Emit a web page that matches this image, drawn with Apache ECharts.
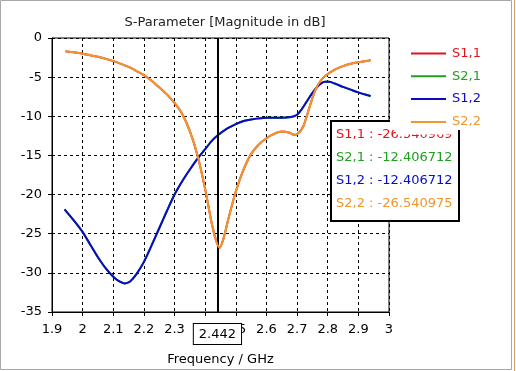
<!DOCTYPE html>
<html><head><meta charset="utf-8">
<script src="https://cdn.jsdelivr.net/npm/echarts@6/dist/echarts.min.js"></script>
<style>html,body{margin:0;padding:0;background:#fff}#c{width:516px;height:371px}</style>
</head><body><div id="c"></div>
<script>
var titleText = 'S-Parameter [Magnitude in dB]';
var xName = 'Frequency / GHz';
var seriesNames = ['S1,1', 'S2,1', 'S1,2', 'S2,2'];
var cursorFreq = 2.442;
var cursorValues = ['-26.540969', '-12.406712', '-12.406712', '-26.540975'];

var freqS22 = [1.944, 1.975, 2.0, 2.025, 2.05, 2.075, 2.1, 2.125, 2.15, 2.175, 2.2, 2.225, 2.25, 2.275, 2.3, 2.325, 2.35, 2.375, 2.4, 2.42, 2.435, 2.447, 2.46, 2.475, 2.5, 2.525, 2.55, 2.575, 2.6, 2.625, 2.65, 2.675, 2.69, 2.7, 2.72, 2.74, 2.76, 2.78, 2.8, 2.825, 2.85, 2.875, 2.9, 2.925, 2.94];
var valS22 = [-1.7, -1.85, -2.0, -2.2, -2.4, -2.65, -2.95, -3.3, -3.7, -4.2, -4.75, -5.45, -6.3, -7.2, -8.3, -9.7, -11.9, -15.0, -19.3, -23.4, -25.8, -26.8, -25.6, -23.2, -19.6, -16.8, -14.8, -13.6, -12.8, -12.25, -11.95, -12.1, -12.35, -12.3, -11.3, -8.9, -6.6, -5.3, -4.6, -4.0, -3.6, -3.3, -3.1, -2.95, -2.85];

var freqS12 = [1.941, 1.975, 2.0, 2.025, 2.05, 2.075, 2.1, 2.12, 2.137, 2.155, 2.175, 2.2, 2.225, 2.25, 2.275, 2.3, 2.325, 2.35, 2.375, 2.4, 2.42, 2.442, 2.47, 2.5, 2.525, 2.55, 2.6, 2.65, 2.68, 2.7, 2.715, 2.73, 2.745, 2.76, 2.775, 2.79, 2.805, 2.825, 2.85, 2.875, 2.9, 2.925, 2.94];
var valS12 = [-21.9, -23.5, -24.8, -26.4, -28.0, -29.4, -30.5, -31.1, -31.35, -31.1, -30.2, -28.6, -26.5, -24.3, -22.1, -20.0, -18.3, -16.8, -15.4, -14.2, -13.2, -12.4, -11.6, -11.0, -10.6, -10.4, -10.2, -10.2, -10.1, -9.8, -9.1, -8.2, -7.3, -6.5, -5.9, -5.6, -5.6, -5.85, -6.25, -6.6, -6.95, -7.25, -7.4];

var colors = ['#e0141c', '#1ea01e', '#0a0ac8', '#f0962a'];
var FONT = 'DejaVu Sans';

function pairs(xs, ys) { return xs.map(function (x, i) { return [x, ys[i]]; }); }

var dataMap = [pairs(freqS22, valS22), pairs(freqS12, valS12), pairs(freqS12, valS12), pairs(freqS22, valS22)];

var series = seriesNames.map(function (n, i) {
  var s = {
    name: n, type: 'line', data: dataMap[i], smooth: 0.25, showSymbol: false, symbol: 'none',
    lineStyle: { color: colors[i], width: 2 }, itemStyle: { color: colors[i] },
    z: 2 + i, animation: false
  };
  if (i === 3) {
    s.markLine = {
      silent: true, symbol: ['none', 'none'], animation: false,
      lineStyle: { color: '#000', width: 2, type: 'solid' },
      label: {
        show: true, position: 'start', formatter: String(cursorFreq), distance: 12,
        fontFamily: FONT, fontSize: 13, color: '#000', backgroundColor: '#fff',
        borderColor: '#000', borderWidth: 1, padding: [4, 5, 3, 5]
      },
      data: [{ xAxis: cursorFreq }]
    };
  }
  return s;
});

var graphics = [{
  type: 'rect', shape: { x: 331, y: 121, width: 128, height: 100 },
  style: { fill: '#fff', stroke: '#000', lineWidth: 2 }, z: 100
}];
seriesNames.forEach(function (n, i) {
  graphics.push({
    type: 'text', x: 336, y: 135 + i * 22.8, z: 101,
    style: { text: n + ' : ' + cursorValues[i], fill: colors[i], font: '13px "' + FONT + '"', textVerticalAlign: 'middle' }
  });
});
graphics.push({ type: 'rect', shape: { x: 390, y: 108, width: 80, height: 22 }, style: { fill: '#fff' }, z: 102 });
graphics.push({ type: 'rect', shape: { x: 396, y: 108, width: 62, height: 26.5 }, style: { fill: '#fff' }, z: 102 });
graphics.push({ type: 'rect', shape: { x: 0.5, y: 0.5, width: 511, height: 369 }, style: { fill: 'none', stroke: '#a8a8a8', lineWidth: 1 }, z: 200 });
graphics.push({ type: 'line', shape: { x1: 514.5, y1: 0, x2: 514.5, y2: 371 }, style: { stroke: '#c8a070', lineWidth: 1 }, z: 200 });

var chart = echarts.init(document.getElementById('c'), null, { renderer: 'canvas' });
chart.setOption({
  animation: false,
  backgroundColor: '#fff',
  textStyle: { fontFamily: FONT },
  title: { text: titleText, left: 220, top: 11, textAlign: 'center',
    textStyle: { fontFamily: FONT, fontSize: 13, fontWeight: 'normal', color: '#222' } },
  grid: { left: 52, right: 127, top: 38, bottom: 56, show: true, borderColor: '#000', borderWidth: 1, backgroundColor: 'transparent' },
  legend: {
    orient: 'vertical', left: 406, top: 42, itemWidth: 35, itemHeight: 2, itemGap: 9.8,
    icon: 'rect', zlevel: 1, z: 150,
    data: seriesNames.map(function (n, i) { return { name: n, textStyle: { color: colors[i] } }; }),
    textStyle: { fontFamily: FONT, fontSize: 13, padding: [0, 0, 0, 1] }
  },
  xAxis: {
    type: 'value', min: 1.9, max: 3, interval: 0.1,
    name: xName, nameLocation: 'middle', nameGap: 41,
    nameTextStyle: { fontFamily: FONT, fontSize: 13, color: '#000' },
    axisLine: { show: true, onZero: false, lineStyle: { color: '#000', width: 1 } },
    axisTick: { show: true, inside: false, length: 4, lineStyle: { color: '#000' } },
    axisLabel: { color: '#000', fontFamily: FONT, fontSize: 13, margin: 11,
      formatter: function (v) { return String(Math.round(v * 10) / 10); } },
    splitLine: { show: true, lineStyle: { color: '#000', type: [3, 3], width: 1 } }
  },
  yAxis: {
    type: 'value', min: -35, max: 0, interval: 5,
    axisLine: { show: true, lineStyle: { color: '#000', width: 1 } },
    axisTick: { show: true, inside: false, length: 4, lineStyle: { color: '#000' } },
    axisLabel: { color: '#000', fontFamily: FONT, fontSize: 13, margin: 10 },
    splitLine: { show: true, lineStyle: { color: '#000', type: [3, 3], width: 1 } }
  },
  series: series,
  graphic: { elements: graphics }
});
</script></body></html>
